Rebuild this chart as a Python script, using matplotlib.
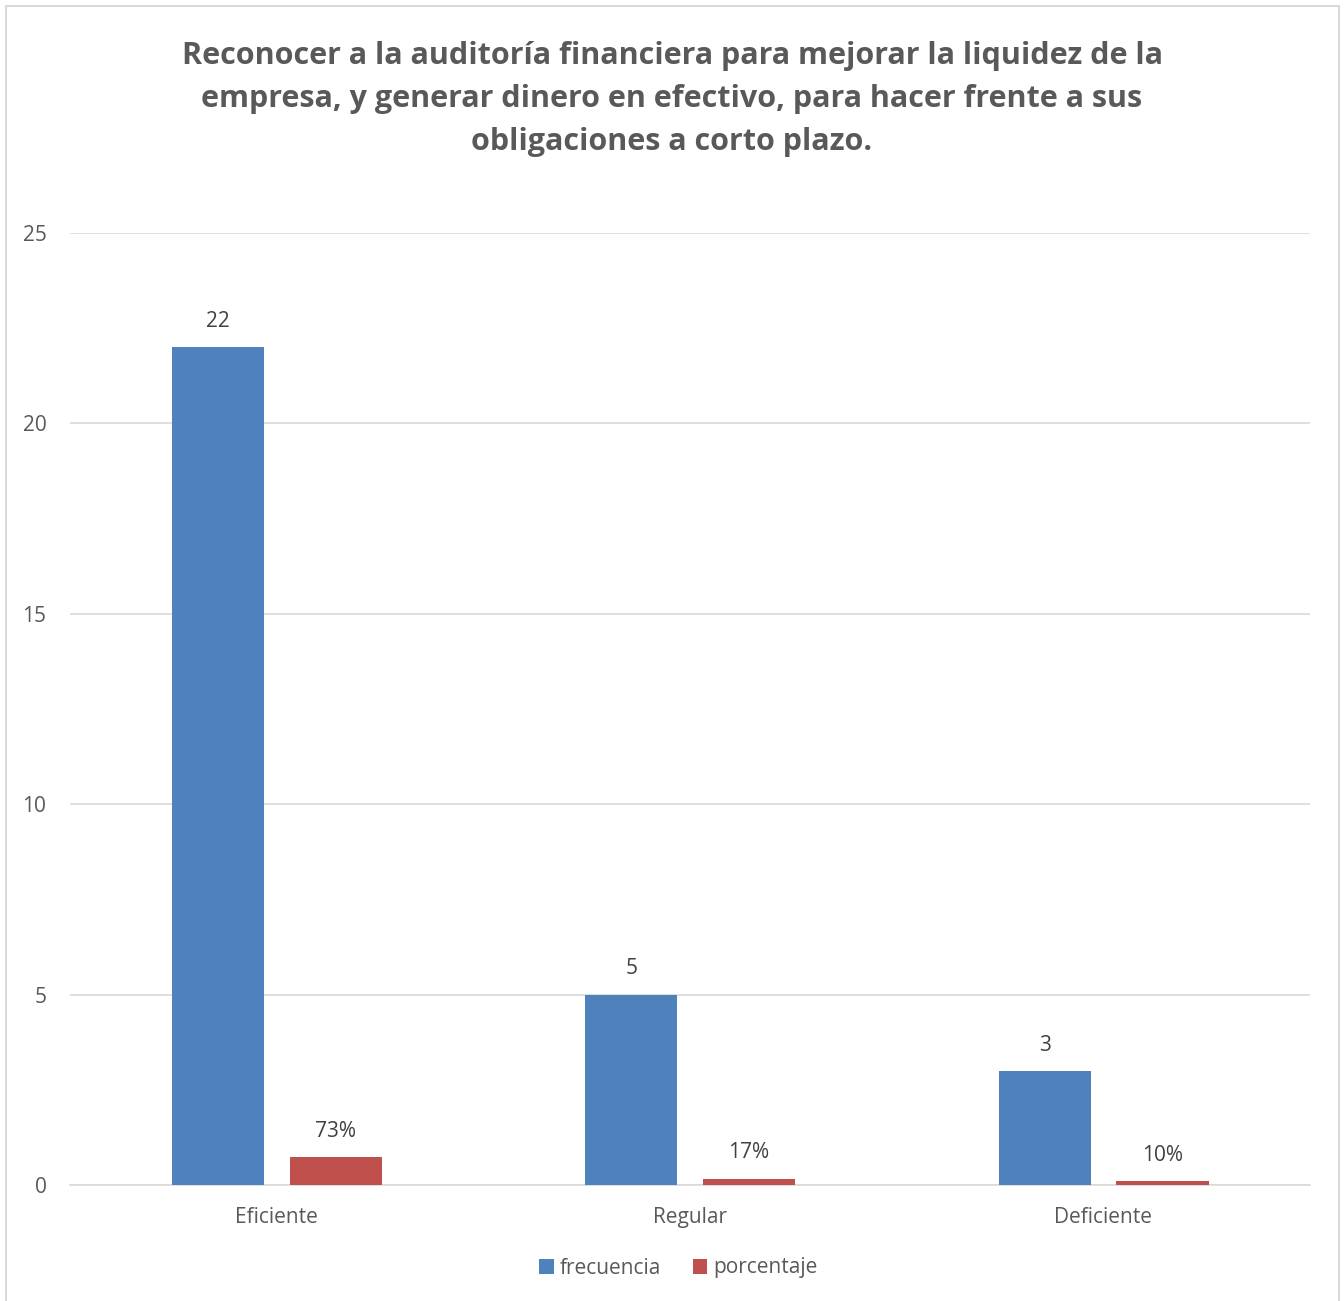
import matplotlib.pyplot as plt
import numpy as np
from matplotlib.patches import Rectangle

categories = ['Eficiente', 'Regular', 'Deficiente']
frecuencia = [22, 5, 3]
porcentaje = [0.73, 0.17, 0.10]
porcentaje_labels = ['73%', '17%', '10%']
yticks = [0, 5, 10, 15, 20, 25]

plt.rcParams['font.family'] = ['Open Sans', 'DejaVu Sans']
text_color = '#595959'

fig = plt.figure(figsize=(13.44, 13.01), dpi=100)
ax = fig.add_axes([70 / 1344, 1 - 1185 / 1301, 1240 / 1344, (1185 - 233) / 1301])

# chart border
fig.patches.append(Rectangle((6 / 1344, -0.01), 1333 / 1344, 1 - 6 / 1301 + 0.01,
                             transform=fig.transFigure, fill=False,
                             edgecolor='#d9d9d9', linewidth=1.5))

x = np.arange(len(categories))
w = 0.223
b1 = ax.bar(x - 0.142, frecuencia, w, color='#4F81BD', label='frecuencia', zorder=3)
b2 = ax.bar(x + 0.143, porcentaje, w, color='#C0504D', label='porcentaje', zorder=3)

for rect, v in zip(b1, frecuencia):
    ax.text(rect.get_x() + rect.get_width() / 2, v + 0.4, str(v),
            ha='center', va='bottom', fontsize=15, color='#404040')
for rect, v, lab in zip(b2, porcentaje, porcentaje_labels):
    ax.text(rect.get_x() + rect.get_width() / 2, v + 0.4, lab,
            ha='center', va='bottom', fontsize=15, color='#404040')

ax.set_xlim(-0.5, 2.5)
ax.set_ylim(0, 25)
ax.set_yticks(yticks)
ax.set_xticks(x)
ax.set_xticklabels(categories)
ax.tick_params(axis='both', length=0, labelsize=15, colors=text_color)
ax.tick_params(axis='y', pad=17)
ax.tick_params(axis='x', pad=16)
ax.grid(axis='y', color='#d9d9d9', linewidth=1.2, zorder=0)
for s in ['top', 'right', 'left']:
    ax.spines[s].set_visible(False)
ax.spines['bottom'].set_color('#d9d9d9')
ax.spines['bottom'].set_linewidth(1.2)

fig.text(0.5, 1 - 99 / 1301,
         'Reconocer a la auditoría financiera para mejorar la liquidez de la\n'
         'empresa, y generar dinero en efectivo, para hacer frente a sus\n'
         'obligaciones a corto plazo.',
         ha='center', va='center', fontsize=22, fontweight='bold',
         color=text_color, linespacing=1.58)

fig.legend(handles=[b1, b2], loc='center', bbox_to_anchor=(0.505, 1 - 1268 / 1301),
           ncol=2, frameon=False, fontsize=15, handlelength=0.7, handleheight=0.7,
           handletextpad=0.3, columnspacing=1.5, labelcolor=text_color)

fig.savefig('out.png', dpi=100)
